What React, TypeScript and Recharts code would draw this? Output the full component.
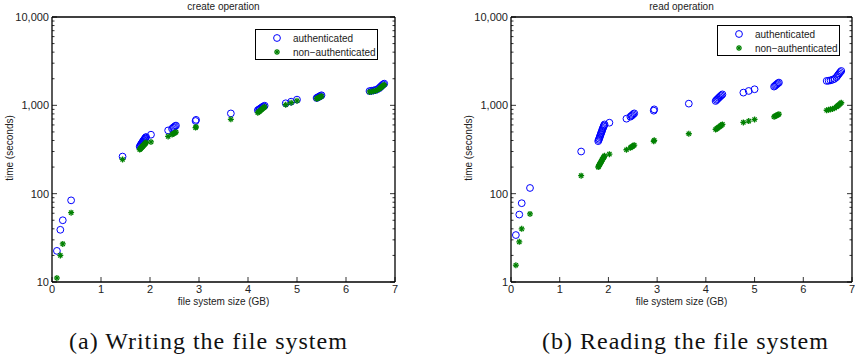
import React from 'react';
import { ScatterChart, Scatter, XAxis, YAxis } from 'recharts';

// file system sizes (GB) shared by both experiments
const sizesGB = [
  0.1, 0.17, 0.22, 0.39,
  1.44,
  1.79, 1.8, 1.81, 1.82, 1.83, 1.84, 1.85, 1.86, 1.87, 1.88, 1.89, 1.9, 1.91, 1.92,
  2.02,
  2.37, 2.45, 2.47, 2.49, 2.51, 2.53,
  2.93, 2.94,
  3.65,
  4.2, 4.22, 4.24, 4.26, 4.28, 4.3, 4.32, 4.34,
  4.77, 4.88, 5.0,
  5.4, 5.42, 5.44, 5.46, 5.48, 5.5,
  6.48, 6.52, 6.56, 6.6, 6.64, 6.68, 6.7, 6.72, 6.74, 6.76, 6.78,
];

// create operation, seconds
const createAuth = [
  22.5, 39, 50, 84,
  263,
  340, 347, 356, 362, 371, 377, 386, 392, 401, 407, 416, 421, 431, 438,
  465,
  520, 543, 557, 567, 581, 590,
  665, 685,
  810,
  880, 896, 909, 926, 944, 961, 974, 990,
  1055, 1100, 1160,
  1210, 1226, 1244, 1261, 1279, 1300,
  1450, 1461, 1472, 1488, 1522, 1568, 1612, 1648, 1693, 1728, 1760,
];
const createPlain = [
  11.1, 20, 27, 61,
  244,
  316, 321, 325, 331, 334, 341, 343, 350, 353, 359, 363, 370, 373, 380,
  385,
  445, 468, 474, 483, 489, 497,
  560, 570,
  695,
  826, 846, 861, 881, 899, 921, 941, 962,
  1015, 1070, 1125,
  1190, 1204, 1221, 1234, 1252, 1270,
  1420, 1428, 1442, 1458, 1492, 1538, 1572, 1608, 1643, 1679, 1710,
];

// read operation, seconds
const readAuth = [
  34, 58, 78, 116,
  300,
  393, 406, 419, 436, 449, 469, 484, 501, 519, 539, 555, 576, 591, 608,
  636,
  706, 743, 759, 774, 794, 811,
  870, 900,
  1045,
  1120, 1152, 1178, 1212, 1238, 1272, 1298, 1330,
  1393, 1455, 1520,
  1630, 1664, 1702, 1738, 1777, 1810,
  1890, 1898, 1921, 1948, 1992, 2078, 2152, 2228, 2302, 2381, 2450,
];
const readPlain = [
  15.5, 28.5, 40, 59,
  160,
  200, 204, 211, 214, 221, 224, 231, 235, 242, 245, 253, 256, 263, 268,
  280,
  314, 330, 337, 341, 349, 354,
  392, 402,
  477,
  533, 544, 552, 564, 573, 586, 595, 608,
  641, 663, 692,
  742, 753, 762, 774, 783, 794,
  880, 889, 901, 909, 931, 958, 981, 998, 1022, 1048, 1070,
];

const xTicks = [0, 1, 2, 3, 4, 5, 6, 7];
const yMajor = [10, 100, 1000, 10000];
const yMinor = [20, 30, 40, 50, 60, 70, 80, 90, 200, 300, 400, 500, 600, 700, 800, 900, 2000, 3000, 4000, 5000, 6000, 7000, 8000, 9000];
const createYLabels = ['10', '100', '1,000', '10,000'];
const readYLabels = ['1', '100', '1,000', '10,000'];

const toPoints = (ys: number[]) => sizesGB.map((x, i) => ({ x, y: ys[i] }));

const FONT = '"Liberation Sans", Arial, sans-serif';
const TEXT = '#222';

const Ring = (p: any) => (
  <circle cx={p.cx} cy={p.cy} r={3.4} fill="none" stroke="#0000ff" strokeWidth={1} />
);

const Star = (p: any) => {
  const { cx, cy } = p;
  const r = 3;
  const d = 2.1;
  return (
    <g stroke="#008000" strokeWidth={1.3}>
      <line x1={cx - r} y1={cy} x2={cx + r} y2={cy} />
      <line x1={cx} y1={cy - r} x2={cx} y2={cy + r} />
      <line x1={cx - d} y1={cy - d} x2={cx + d} y2={cy + d} />
      <line x1={cx - d} y1={cy + d} x2={cx + d} y2={cy - d} />
    </g>
  );
};

const leftTick = (labels: string[]) => (props: any) => {
  const { x, y, payload } = props;
  const idx = yMajor.indexOf(payload.value);
  const major = idx >= 0;
  return (
    <g>
      <line x1={x} y1={y} x2={x + (major ? 5 : 2.5)} y2={y} stroke="#000" strokeWidth={0.8} />
      {major && (
        <text x={x - 3} y={y} dy={4} textAnchor="end" fontSize={11} fontFamily={FONT} fill={TEXT}>
          {labels[idx]}
        </text>
      )}
    </g>
  );
};

const rightTick = (props: any) => {
  const { x, y, payload } = props;
  const major = yMajor.includes(payload.value);
  return <line x1={x} y1={y} x2={x - (major ? 5 : 2.5)} y2={y} stroke="#000" strokeWidth={0.8} />;
};

const bottomTick = (props: any) => {
  const { x, y, payload } = props;
  return (
    <g>
      <line x1={x} y1={y} x2={x} y2={y - 5} stroke="#000" strokeWidth={0.8} />
      <text x={x} y={y} dy={11} textAnchor="middle" fontSize={11} fontFamily={FONT} fill={TEXT}>
        {payload.value}
      </text>
    </g>
  );
};

const topTick = (props: any) => {
  const { x, y } = props;
  return <line x1={x} y1={y} x2={x} y2={y + 5} stroke="#000" strokeWidth={0.8} />;
};

interface PanelProps {
  left: number;
  width: number;
  plotLeft: number;
  plotRight: number;
  title: string;
  auth: number[];
  plain: number[];
  yLabels: string[];
  legendLeft: number;
  legendTop: number;
  caption: string;
  captionLeft: number;
}

const Panel: React.FC<PanelProps> = (p) => {
  const mid = (p.plotLeft + p.plotRight) / 2;
  const axisLine = { stroke: '#000', strokeWidth: 1.3 };
  return (
    <div style={{ position: 'absolute', left: p.left, top: 0, width: p.width, height: 358 }}>
      <ScatterChart
        width={p.width}
        height={310}
        margin={{ top: 16, right: p.width - p.plotRight - 1, bottom: 27, left: p.plotLeft - 1 }}
      >
        <XAxis xAxisId="b" dataKey="x" type="number" domain={[0, 7]} ticks={xTicks} interval={0}
          height={1} tickSize={0} tickMargin={0} tickLine={false} tick={bottomTick} axisLine={axisLine} />
        <XAxis xAxisId="t" orientation="top" dataKey="x" type="number" domain={[0, 7]} ticks={xTicks} interval={0}
          height={1} tickSize={0} tickMargin={0} tickLine={false} tick={topTick} axisLine={axisLine} />
        <YAxis yAxisId="l" dataKey="y" type="number" scale="log" domain={[10, 10000]} allowDataOverflow
          ticks={[...yMajor, ...yMinor]} interval={0} width={1} tickSize={0} tickMargin={0} tickLine={false}
          tick={leftTick(p.yLabels)} axisLine={axisLine} />
        <YAxis yAxisId="r" orientation="right" dataKey="y" type="number" scale="log" domain={[10, 10000]} allowDataOverflow
          ticks={[...yMajor, ...yMinor]} interval={0} width={1} tickSize={0} tickMargin={0} tickLine={false}
          tick={rightTick} axisLine={axisLine} />
        <Scatter xAxisId="b" yAxisId="l" name="authenticated" data={toPoints(p.auth)} shape={Ring} isAnimationActive={false} />
        <Scatter xAxisId="b" yAxisId="l" name="non-authenticated" data={toPoints(p.plain)} shape={Star} isAnimationActive={false} />
        <Scatter xAxisId="t" yAxisId="r" data={[]} isAnimationActive={false} />
      </ScatterChart>

      <div style={{ position: 'absolute', left: mid - 100, width: 200, top: 1, textAlign: 'center',
        fontFamily: FONT, fontSize: 10, color: TEXT, lineHeight: '12px' }}>{p.title}</div>
      <div style={{ position: 'absolute', left: mid - 100, width: 200, top: 296, textAlign: 'center',
        fontFamily: FONT, fontSize: 10, color: TEXT, lineHeight: '12px' }}>file system size (GB)</div>
      <div style={{ position: 'absolute', left: p.plotLeft - 42 - 60, width: 120, top: 148 - 6, textAlign: 'center',
        fontFamily: FONT, fontSize: 10, color: TEXT, lineHeight: '12px', transform: 'rotate(-90deg)' }}>time (seconds)</div>

      <div style={{ position: 'absolute', left: p.legendLeft, top: p.legendTop, width: 123, height: 31,
        boxSizing: 'border-box', border: '1.5px solid #000', background: '#fff' }}>
        <svg width={30} height={31} style={{ position: 'absolute', left: 6, top: -1.5 }}>
          <Ring cx={15} cy={9} />
          <Star cx={15} cy={23} />
        </svg>
        <div style={{ position: 'absolute', left: 37, top: 2, fontFamily: FONT, fontSize: 10, color: TEXT, lineHeight: '14px' }}>
          authenticated<br />non&#8722;authenticated
        </div>
      </div>

      <div style={{ position: 'absolute', left: p.captionLeft - p.left, top: 326, whiteSpace: 'nowrap',
        fontFamily: '"Liberation Serif", "Times New Roman", serif', fontSize: 24, letterSpacing: 1, color: '#111', lineHeight: '30px' }}>
        {p.caption}
      </div>
    </div>
  );
};

export default function App() {
  return (
    <div style={{ position: 'absolute', left: 0, top: 0, width: 855, height: 358, background: '#fff', overflow: 'hidden' }}>
      <Panel left={0} width={427} plotLeft={52} plotRight={395} title="create operation"
        auth={createAuth} plain={createPlain} yLabels={createYLabels}
        legendLeft={255} legendTop={29} caption="(a) Writing the file system" captionLeft={69} />
      <Panel left={427} width={428} plotLeft={84} plotRight={425} title="read operation"
        auth={readAuth} plain={readPlain} yLabels={readYLabels}
        legendLeft={717 - 427} legendTop={25} caption="(b) Reading the file system" captionLeft={542} />
    </div>
  );
}
